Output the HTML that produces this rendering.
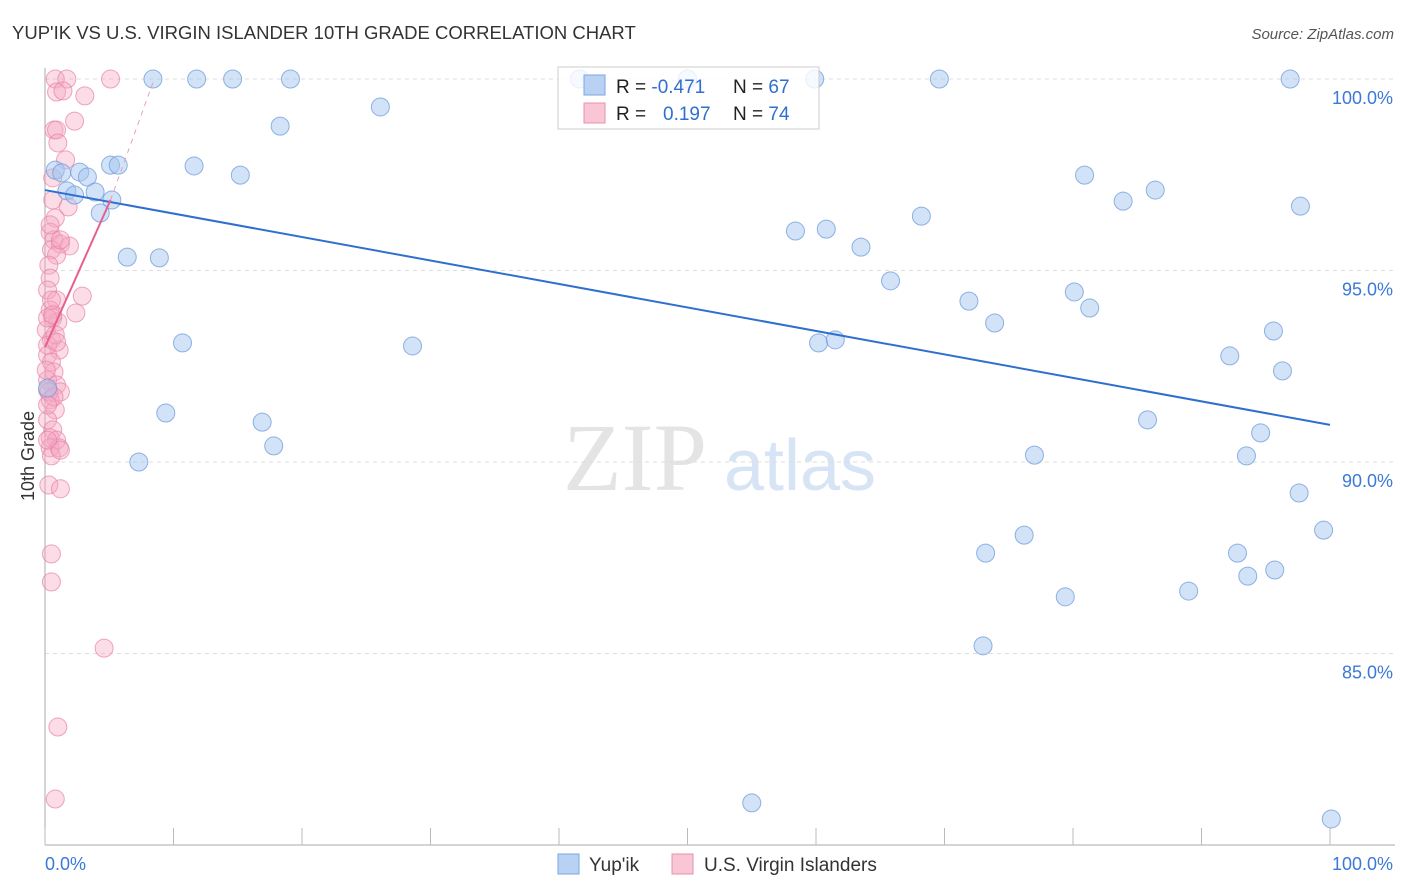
<!DOCTYPE html>
<html><head><meta charset="utf-8"><style>
body{margin:0;background:#fff;font-family:"Liberation Sans",sans-serif}
svg{display:block}
</style></head><body>
<svg width="1406" height="892" id="chart">
<text x="12" y="39" font-size="18.5" fill="#333">YUP'IK VS U.S. VIRGIN ISLANDER 10TH GRADE CORRELATION CHART</text>
<text x="1394" y="39" font-size="15" fill="#555" font-style="italic" text-anchor="end">Source: ZipAtlas.com</text>
<text x="34" y="456" font-size="18" fill="#333" text-anchor="middle" transform="rotate(-90 34 456)">10th Grade</text>
<g>
<text x="635" y="490" font-size="96" fill="#e4e4e4" font-family="Liberation Serif,serif" text-anchor="middle">ZIP</text>
<text x="800" y="490" font-size="72" fill="#d6e4f5" text-anchor="middle">atlas</text>
</g>
<g id="grid"></g>
<g id="axes"></g>
<g id="pts"></g>
<g id="lines"></g>
<g>
<rect x="558" y="67" width="261" height="62" fill="rgba(255,255,255,0.8)" stroke="#ccc"/>
<rect x="584" y="75" width="21" height="20" fill="#b9d2f4" stroke="#7aa6e0"/>
<rect x="584" y="103" width="21" height="20" fill="#f9c6d5" stroke="#e890ac"/>
<text x="616" y="93" font-size="19" fill="#222">R = <tspan fill="#2f6fcf">-0.471</tspan></text>
<text x="733" y="93" font-size="19" fill="#222">N = <tspan fill="#2f6fcf">67</tspan></text>
<text x="616" y="120" font-size="19" fill="#222">R = </text>
<text x="663" y="120" font-size="19" fill="#2f6fcf">0.197</text>
<text x="733" y="120" font-size="19" fill="#222">N = <tspan fill="#2f6fcf">74</tspan></text>
</g>
<g>
<rect x="558" y="854" width="21" height="20" fill="#b9d2f4" stroke="#7aa6e0"/>
<text x="589" y="871" font-size="19" fill="#333">Yup'ik</text>
<rect x="672" y="854" width="21" height="20" fill="#f9c6d5" stroke="#e890ac"/>
<text x="704" y="871" font-size="19" fill="#333">U.S. Virgin Islanders</text>
</g>
</svg>
<script>
const yTicks=[100,95,90,85];
const yTickLabels=["100.0%","95.0%","90.0%","85.0%"];
const xTickLabels=["0.0%","100.0%"];
const blueX=[8.4,11.8,14.6,19.1,41.6,50.0,59.9,69.6,96.9,26.1,18.3,0.8,1.3,2.7,3.3,5.1,5.7,11.6,15.2,1.7,2.3,3.9,5.2,4.3,6.4,8.9,10.7,28.6,9.4,16.9,17.8,7.3,0.2,58.4,60.8,63.5,68.2,65.8,71.9,73.9,60.2,61.5,80.9,83.9,86.4,97.7,80.1,81.3,95.6,92.2,96.3,85.8,94.6,77.0,93.5,97.6,99.5,76.2,73.2,92.8,93.6,95.7,79.4,89.0,73.0,55.0,100.1];
const blueY=[100,100,100,100,100,100,100,100,100,99.27,98.77,97.62,97.55,97.57,97.44,97.75,97.75,97.73,97.49,97.08,96.97,97.05,96.84,96.5,95.35,95.33,93.11,93.03,91.28,91.04,90.42,90.0,91.93,96.03,96.08,95.61,96.42,94.73,94.2,93.63,93.11,93.19,97.49,96.81,97.1,96.68,94.44,94.02,93.42,92.77,92.38,91.1,90.76,90.18,90.16,89.19,88.22,88.09,87.62,87.62,87.02,87.18,86.48,86.63,85.2,81.1,80.68];
const pinkX=[0.8,1.7,5.1,0.9,1.4,3.1,2.3,0.7,0.9,1.0,1.6,0.6,0.6,1.8,0.8,0.4,0.7,1.2,1.9,0.5,0.9,0.3,0.4,0.2,0.9,2.9,2.4,0.4,0.6,1.0,0.1,0.5,1.1,0.2,0.5,0.7,0.2,0.9,0.2,1.2,0.4,0.8,0.2,0.6,0.4,0.9,0.4,1.1,0.5,0.3,1.2,0.5,0.5,4.6,1.0,0.8,0.2,0.2,0.3,0.5,0.8,1.2,0.2,0.7,0.1,0.4,0.9,0.6,1.2,0.2];
const pinkY=[100,100,100,99.66,99.69,99.56,98.9,98.67,98.67,98.33,97.89,97.42,96.84,96.66,96.37,96.0,95.8,95.69,95.64,95.54,95.4,95.14,94.8,94.49,94.23,94.33,93.89,93.97,93.76,93.66,93.45,93.19,92.92,92.79,92.61,92.35,92.14,92.01,91.88,91.83,91.62,91.36,91.1,90.84,90.63,90.57,90.37,90.37,90.16,89.4,89.3,87.6,86.87,85.14,83.08,81.2,93.76,93.05,91.83,94.23,93.32,95.8,90.57,91.7,92.4,96.19,93.13,93.84,90.31,91.49];
const blueTrendX=[0,100], blueTrendY=[97.1,90.97];
const pinkTrendX=[0,5.1], pinkTrendY=[93.0,96.84];
const pinkDashX=[5.1,8.5], pinkDashY=[96.84,100];

const NS="http://www.w3.org/2000/svg";
const sx=v=>45+12.85*v;
const sy=v=>79+(100-v)*38.3;
function mk(tag,attrs,parent){const e=document.createElementNS(NS,tag);for(const k in attrs)e.setAttribute(k,attrs[k]);parent.appendChild(e);return e;}
const grid=document.getElementById('grid'),axes=document.getElementById('axes'),pts=document.getElementById('pts'),lines=document.getElementById('lines');
yTicks.forEach((t,i)=>{
 const l=mk('line',{x1:45,x2:1395,y1:sy(t),y2:sy(t),stroke:'#ddd','stroke-dasharray':'4,4'},grid);
 
 
 const tx=mk('text',{x:1393,y:sy(t)+25,'font-size':18,fill:'#3b78d8','text-anchor':'end'},axes);
 tx.textContent=yTickLabels[i];
 
 
});
const ya=mk('line',{x1:45,x2:45,y1:68,y2:845,stroke:'#aaa'},axes);


const xa=mk('line',{x1:45,x2:1395,y1:845,y2:845,stroke:'#aaa'},axes);


for(let i=0;i<=10;i++){
 const tk=mk('line',{x1:sx(i*10),x2:sx(i*10),y1:828,y2:845,stroke:'#bbb'},axes);
 
 
}
[[0,'start',45],[100,'end',1393]].forEach((a,i)=>{
 const t=mk('text',{x:a[2],y:870,'font-size':18,fill:'#3b78d8','text-anchor':a[1]},axes);
 t.textContent=xTickLabels[i];
 
 
});
pinkX.forEach((x,i)=>{
 const c=mk('circle',{cx:sx(x),cy:sy(pinkY[i]),r:9,fill:'rgba(246,168,194,0.4)',stroke:'rgba(232,130,165,0.7)'},pts);
 
 
});
blueX.forEach((x,i)=>{
 const c=mk('circle',{cx:sx(x),cy:sy(blueY[i]),r:9,fill:'rgba(165,198,240,0.5)',stroke:'rgba(110,155,220,0.75)'},pts);
 
 
});
const bl=mk('line',{x1:sx(blueTrendX[0]),y1:sy(blueTrendY[0]),x2:sx(blueTrendX[1]),y2:sy(blueTrendY[1]),stroke:'#2f6fcf','stroke-width':2},lines);


const pl=mk('line',{x1:sx(pinkTrendX[0]),y1:sy(pinkTrendY[0]),x2:sx(pinkTrendX[1]),y2:sy(pinkTrendY[1]),stroke:'#e8608a','stroke-width':2},lines);


const pd=mk('line',{x1:sx(pinkDashX[0]),y1:sy(pinkDashY[0]),x2:sx(pinkDashX[1]),y2:sy(pinkDashY[1]),stroke:'#e8a0b8','stroke-width':1,'stroke-dasharray':'5,5'},lines);


</script>
</body></html>
